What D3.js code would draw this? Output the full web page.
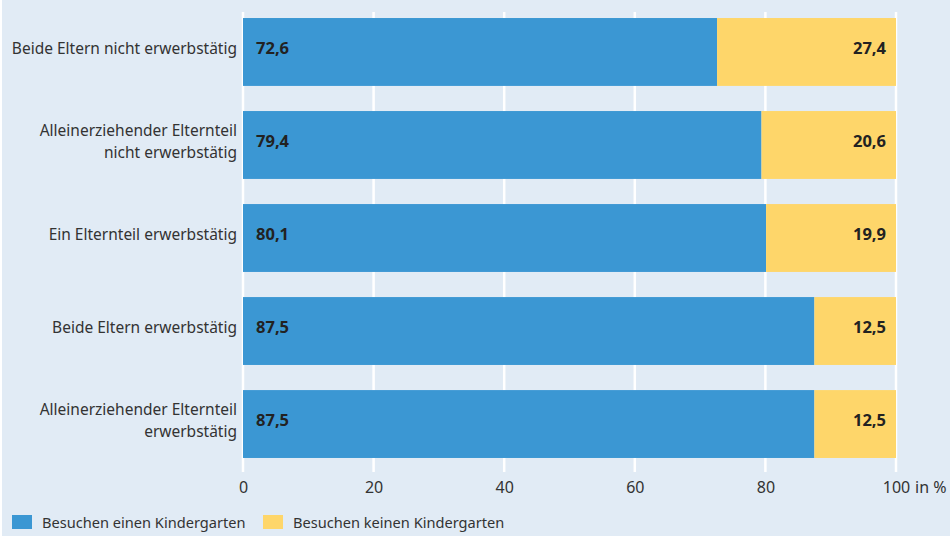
<!DOCTYPE html>
<html>
<head>
<meta charset="utf-8">
<script src="https://cdn.jsdelivr.net/npm/d3@7"></script>
<style>
  body { margin: 0; background: #fff; }
  svg { display: block; font-family: "Noto Sans", sans-serif; }
</style>
</head>
<body>
<svg id="chart" width="950" height="536"></svg>
<script>
var categories = [
   ["Beide Eltern nicht erwerbstätig"],
   ["Alleinerziehender Elternteil", "nicht erwerbstätig"],
   ["Ein Elternteil erwerbstätig"],
   ["Beide Eltern erwerbstätig"],
   ["Alleinerziehender Elternteil", "erwerbstätig"]];
var besuchen = [72.6, 79.4, 80.1, 87.5, 87.5];
var nicht_besuchen = [27.4, 20.6, 19.9, 12.5, 12.5];
var series_names = ["Besuchen einen Kindergarten", "Besuchen keinen Kindergarten"];
var x_ticks = [0, 20, 40, 60, 80, 100];

var colors = ["#3b97d3", "#fed66a"];
var fmt = function(v) { return d3.format(".1f")(v).replace(".", ","); };

var svg = d3.select("#chart");
svg.append("rect").attr("x", 2).attr("y", 0).attr("width", 948).attr("height", 536).attr("fill", "#e1ebf5");

var x = d3.scaleLinear().domain([0, 100]).range([243, 896]);
var y = d3.scaleBand().domain(d3.range(categories.length)).range([5, 471]).paddingInner(0.27).paddingOuter(0.14);

// grid lines
svg.append("g").selectAll("line").data(x_ticks).enter().append("line")
   .attr("x1", function(d) { return x(d); }).attr("x2", function(d) { return x(d); })
   .attr("y1", 12).attr("y2", 472)
   .attr("stroke", "#fff").attr("stroke-width", 2.5);

var rows = svg.append("g").selectAll("g").data(categories).enter().append("g");
rows.append("rect")
   .attr("x", x(0)).attr("y", function(d, i) { return y(i); })
   .attr("width", function(d, i) { return x(besuchen[i]) - x(0); })
   .attr("height", y.bandwidth()).attr("fill", colors[0]);
rows.append("rect")
   .attr("x", function(d, i) { return x(besuchen[i]); }).attr("y", function(d, i) { return y(i); })
   .attr("width", function(d, i) { return x(besuchen[i] + nicht_besuchen[i]) - x(besuchen[i]); })
   .attr("height", y.bandwidth()).attr("fill", colors[1]);

// value labels
rows.append("text")
   .attr("x", x(0) + 13).attr("y", function(d, i) { return y(i) + y.bandwidth() / 2 + 2; })
   .attr("font-size", 16.5).attr("font-weight", "bold").attr("fill", "#222")
   .text(function(d, i) { return fmt(besuchen[i]); });
rows.append("text")
   .attr("x", function(d, i) { return x(besuchen[i] + nicht_besuchen[i]) - 10; })
   .attr("y", function(d, i) { return y(i) + y.bandwidth() / 2 + 2; })
   .attr("text-anchor", "end")
   .attr("font-size", 16.5).attr("font-weight", "bold").attr("fill", "#222")
   .text(function(d, i) { return fmt(nicht_besuchen[i]); });

// category labels
rows.append("text")
   .attr("text-anchor", "end").attr("font-size", 15.5).attr("fill", "#333")
   .attr("y", function(d, i) { return y(i) + y.bandwidth() / 2 + 2 - (d.length - 1) * 11; })
   .selectAll("tspan").data(function(d) { return d; }).enter().append("tspan")
   .attr("x", 237).attr("dy", function(d, i) { return i == 0 ? 0 : 22; })
   .text(function(d) { return d; });

// x axis labels
var xaxis = svg.append("g").attr("transform", "translate(0,472)")
   .call(d3.axisBottom(x).tickValues(x_ticks).tickSize(0).tickPadding(10));
xaxis.select(".domain").remove();
xaxis.selectAll("text").attr("font-size", 16).attr("fill", "#333").attr("font-family", "Noto Sans");
svg.append("text").attr("x", x(100) + 19).attr("y", 493.4).attr("font-size", 16).attr("fill", "#333").text("in %");

// legend
var leg_x = [12, 263];
var legend = svg.append("g").selectAll("g").data(series_names).enter().append("g")
   .attr("transform", function(d, i) { return "translate(" + leg_x[i] + ",515)"; });
legend.append("rect").attr("width", 20).attr("height", 14).attr("fill", function(d, i) { return colors[i]; });
legend.append("text").attr("x", 30).attr("y", 13).attr("font-size", 14.6).attr("fill", "#333")
   .text(function(d) { return d; });
</script>
</body>
</html>
